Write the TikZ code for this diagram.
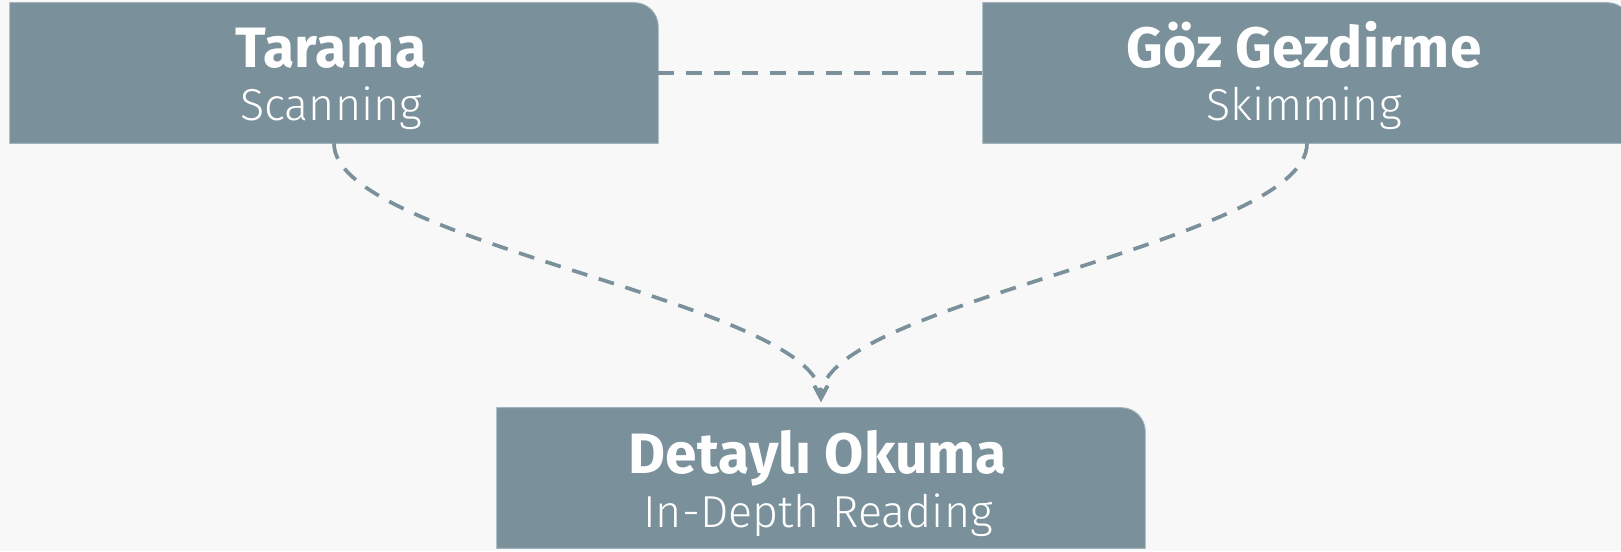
\documentclass[tikz,border=0pt]{standalone}
\usepackage{fontspec}
\setmainfont{Fira Sans}
\newfontfamily\lightfont{Fira Sans Light}
\usetikzlibrary{arrows.meta}

\definecolor{boxfill}{HTML}{7A909B}
\definecolor{boxedge}{HTML}{A3B3BC}
\definecolor{paper}{HTML}{F8F8F8}

\begin{document}
\begin{tikzpicture}[x=0.02cm, y=0.02cm,
    stagebox/.style={inner sep=0pt, minimum width=12.96cm, minimum height=2.8cm},
    title/.style={anchor=base, text=white, font=\bfseries\fontsize{32.4}{38}\selectfont},
    subtitle/.style={anchor=base, text=white, font=\lightfont\fontsize{25.5}{30}\selectfont},
    link/.style={draw=boxfill, line width=2.1pt, dash pattern=on 9.1pt off 6.8pt},
    flow/.style={link, -{Straight Barb[length=7pt, width=7.5pt]}}]

  % Background
  \fill[paper] (0,0) rectangle (1621,551);
  \clip (0,0) rectangle (1621,551);

  % Boxes
  \node[stagebox] (scan) at (334,478) {};
  \node[stagebox] (skim) at (1307,478) {};
  \node[stagebox] (deep) at (821,73) {};

  % Box fills, only the top right corner is rounded
  \foreach \b in {scan,skim,deep} {
    \filldraw[fill=boxfill, draw=boxedge, line width=0.5pt]
      (\b.south west) -- (\b.north west) -- ([xshift=-13.6pt]\b.north east)
      to[out=0,in=90] ([yshift=-13.6pt]\b.north east) -- (\b.south east) -- cycle;
  }

  % Labels
  \node[title] (scan-t) at (331,483) {Tarama};
  \node[subtitle] (scan-s) at (331,430) {Scanning};
  \node[title] (skim-t) at (1304,483) {Göz Gezdirme};
  \node[subtitle] (skim-s) at (1304,430) {Skimming};
  \node[title] (deep-t) at (818,78) {Detaylı Okuma};
  \node[subtitle] (deep-s) at (818,24) {In-Depth Reading};

  % Connectors
  \coordinate (tip) at (821,149);
  \draw[link] (scan.east) -- (skim.west);
  \draw[flow] (scan.south) to[out=270, in=90, out distance=2cm, in distance=2cm] (tip);
  \draw[flow] (skim.south) to[out=270, in=90, out distance=2cm, in distance=2cm] (tip);

\end{tikzpicture}
\end{document}
